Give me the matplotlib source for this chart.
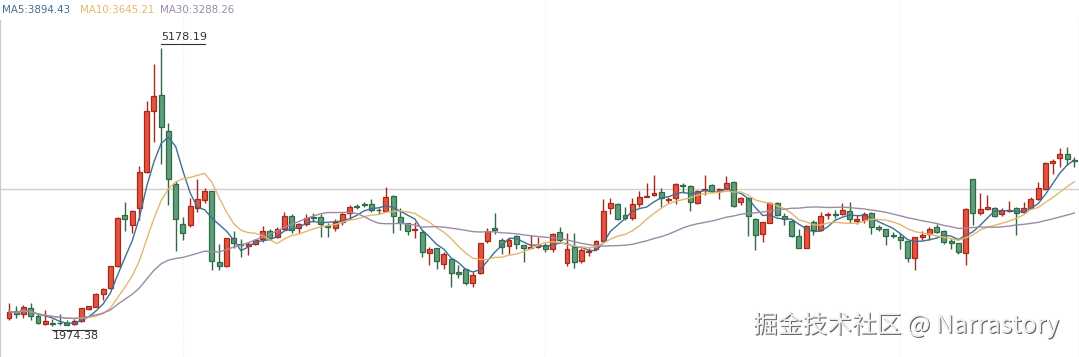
import matplotlib
matplotlib.use('Agg')
import matplotlib.pyplot as plt
import matplotlib.patheffects as pe
from matplotlib.transforms import offset_copy
import numpy as np
import pandas as pd

# 주봉 OHLC
opens = [2070, 2148, 2107, 2180, 2087, 1995, 2010, 2012, 2001, 1990,
         2024, 2165, 2195, 2338, 2407, 2667, 3251, 3133, 3328, 3750,
         4452, 4633, 4219, 3608, 3144, 3141, 3332, 3429, 3522, 2706,
         2660, 2982, 2922, 2894, 2917, 2969, 3067, 3001, 3086, 3239,
         3098, 3144, 3231, 3224, 3130, 3101, 3176, 3270, 3351, 3380,
         3374, 3312, 3300, 3470, 3224, 3155, 3076, 3058, 2817, 2867,
         2689, 2741, 2591, 2625, 2471, 2579, 2948, 3101, 2961, 2894,
         3009, 2905, 2871, 2882, 2900, 2856, 3055, 2695, 2879, 2724,
         2827, 2857, 2951, 3328, 3375, 3247, 3213, 3374, 3462, 3478,
         3519, 3427, 3443, 3597, 3588, 3386, 3537, 3593, 3527, 3554,
         3635, 3397, 3450, 3207, 3030, 3164, 3386, 3236, 3184, 3005,
         2876, 3167, 3075, 3249, 3260, 3260, 3297, 3185, 3188, 3270,
         3107, 3086, 3023, 3003, 2954, 2752, 2992, 3032, 3109, 3063,
         2949, 2925, 2810, 3662, 3270, 3317, 3326, 3262, 3297, 3326,
         3280, 3328, 3432, 3553, 3853, 3904, 3950, 3881]
highs = [2237, 2197, 2214, 2234, 2110, 2151, 2049, 2110, 2041, 2049,
         2185, 2206, 2347, 2407, 2663, 3231, 3395, 3305, 3819, 4564,
         4990, 5178.19, 4314, 3643, 3231, 3443, 3662, 3565, 3525, 2917,
         2989, 3070, 2969, 2943, 2980, 3124, 3095, 3116, 3282, 3259,
         3155, 3259, 3270, 3259, 3162, 3201, 3282, 3366, 3374, 3404,
         3432, 3326, 3570, 3481, 3328, 3158, 3170, 3078, 2886, 2870,
         2821, 2745, 2675, 2628, 2591, 2928, 3105, 3270, 2982, 2989,
         3020, 2910, 3020, 2994, 2925, 3040, 3109, 3044, 3047, 2867,
         2867, 2963, 3441, 3443, 3386, 3347, 3443, 3527, 3625, 3712,
         3558, 3462, 3616, 3616, 3591, 3539, 3712, 3608, 3558, 3700,
         3637, 3462, 3453, 3213, 3174, 3395, 3404, 3274, 3188, 3086,
         3136, 3193, 3289, 3289, 3314, 3386, 3404, 3251, 3291, 3289,
         3136, 3090, 3058, 3040, 2955, 3001, 3067, 3109, 3147, 3078,
         2982, 2932, 3335, 3665, 3501, 3481, 3347, 3335, 3416, 3347,
         3404, 3455, 3628, 3858, 3893, 4019, 4029, 3923]
lows = [2041, 2059, 2064, 2041, 1990, 1982, 1974.38, 1980, 1978, 1980,
        2018, 2157, 2190, 2272, 2398, 2655, 3072, 3040, 3193, 3738,
        4092, 3838, 3366, 2836, 2963, 3116, 3289, 3386, 2617, 2617,
        2655, 2867, 2771, 2790, 2905, 2943, 2963, 2982, 3078, 3040,
        3040, 3124, 3174, 3001, 3001, 3067, 3136, 3193, 3320, 3347,
        3289, 3262, 3289, 3044, 3078, 3020, 2982, 2771, 2675, 2631,
        2625, 2421, 2522, 2444, 2421, 2577, 2925, 3036, 2802, 2798,
        2859, 2709, 2867, 2867, 2828, 2828, 2943, 2663, 2637, 2695,
        2773, 2848, 2946, 3257, 3193, 3193, 3199, 3347, 3460, 3466,
        3343, 3386, 3378, 3501, 3297, 3372, 3481, 3501, 3435, 3539,
        3347, 3366, 3009, 2848, 2940, 3159, 3239, 3136, 2994, 2867,
        2874, 3020, 3064, 3208, 3213, 3251, 3159, 3153, 3155, 3032,
        3070, 2905, 2982, 2856, 2713, 2617, 2963, 2963, 3047, 2917,
        2859, 2796, 2675, 3136, 3251, 3309, 3224, 3239, 3286, 3020,
        3270, 3317, 3424, 3539, 3723, 3804, 3827, 3807]
closes = [2139, 2116, 2195, 2091, 2010, 2030, 1995, 2001, 1987, 2024,
          2177, 2199, 2338, 2396, 2658, 3213, 3202, 3297, 3743, 4449,
          4622, 4268, 3662, 3201, 3040, 3360, 3432, 3527, 2717, 2669,
          2986, 2925, 2908, 2917, 2963, 3061, 2989, 3086, 3239, 3078,
          3144, 3222, 3213, 3144, 3115, 3176, 3257, 3347, 3340, 3371,
          3305, 3305, 3464, 3243, 3162, 3070, 3086, 2830, 2856, 2721,
          2798, 2579, 2568, 2471, 2556, 2925, 3072, 3075, 2879, 2963,
          2913, 2867, 2886, 2900, 2856, 3029, 2966, 2856, 2709, 2842,
          2840, 2955, 3297, 3386, 3201, 3211, 3375, 3453, 3473, 3502,
          3443, 3439, 3606, 3582, 3397, 3531, 3554, 3531, 3545, 3625,
          3351, 3443, 3239, 3026, 3167, 3386, 3251, 3201, 3009, 2876,
          3130, 3078, 3234, 3260, 3252, 3306, 3201, 3201, 3265, 3107,
          3095, 3005, 3012, 2963, 2761, 2994, 3020, 3090, 3058, 2943,
          2925, 2825, 3320, 3270, 3318, 3340, 3239, 3309, 3309, 3270,
          3328, 3435, 3558, 3846, 3876, 3950, 3893, 3873]

ma_windows = [5, 10, 30]
ma_colors = ['#3f6f92', '#e2b86e', '#9d8aa8']
ma_last = ['3894.43', '3645.21', '3288.26']

up_fill, up_edge = '#e4533e', '#a8281c'
down_fill, down_edge = '#5e9e78', '#2f6a47'

df = pd.DataFrame({'open': opens, 'high': highs, 'low': lows, 'close': closes})
n = len(df)
idx = np.arange(n)

fig = plt.figure(figsize=(10.79, 3.57), dpi=100)
ax = fig.add_axes([0, 0, 1, 1])

# 크로스헤어 / 세로 점선
ax.axhline(3556, color='#cfcfcf', lw=1.0, zorder=1)
for gx in [24, 74, 123]:
    ax.axvline(gx, color='#ececec', lw=0.8, ls=(0, (1, 2)), zorder=0)

up = df['close'] >= df['open']
body_lo = np.minimum(df['open'], df['close'])
body_h = np.maximum(np.abs(df['close'] - df['open']), 8)

for mask, fill, edge in [(up, up_fill, up_edge), (~up, down_fill, down_edge)]:
    ax.vlines(idx[mask], df['low'][mask], df['high'][mask], color=edge, lw=1.0, zorder=2)
    ax.bar(idx[mask], body_h[mask], bottom=body_lo[mask], width=0.68,
           color=fill, edgecolor=edge, linewidth=0.9, zorder=3)
# end for (candles)

for w, c in zip(ma_windows, ma_colors):
    ma = df['close'].rolling(w, min_periods=1).mean()
    ax.plot(idx, ma, color=c, lw=1.0, zorder=4)
# end for (MA)

# 최고 / 최저 표시
hi_i = int(np.argmax(highs))
lo_i = int(np.argmin(lows))
tr_hi = offset_copy(ax.transData, fig=fig, x=0, y=4, units='dots')
tr_lo = offset_copy(ax.transData, fig=fig, x=0, y=-4, units='dots')
ax.plot([hi_i, hi_i + 6], [highs[hi_i]] * 2, color='#333333', lw=0.8, transform=tr_hi, zorder=5)
ax.annotate(f'{highs[hi_i]:.2f}', (hi_i, highs[hi_i]), xytext=(0, 4), textcoords='offset points',
            ha='left', va='bottom', fontsize=8, color='#333333')
ax.plot([lo_i, lo_i + 6], [lows[lo_i]] * 2, color='#333333', lw=0.8, transform=tr_lo, zorder=5)
ax.annotate(f'{lows[lo_i]:.2f}', (lo_i, lows[lo_i]), xytext=(0, -4), textcoords='offset points',
            ha='left', va='top', fontsize=8, color='#333333')

# 범례
for xpos, w, c, v in zip([2, 80, 160], ma_windows, ma_colors, ma_last):
    fig.text(xpos / 1079, 1 - 10 / 357, f'MA{w}:{v}', color=c, fontsize=7.4, va='center', ha='left')
# end for (legend)

# 워터마크
fig.text(753 / 1079, 1 - 325 / 357, '掘金技术社区 @ Narrastory', fontsize=17.8, color='#f2f2f2',
         va='center', ha='left', family=['Noto Sans CJK SC', 'DejaVu Sans'],
         path_effects=[pe.withSimplePatchShadow(offset=(0.8, -0.8), shadow_rgbFace='#555555', alpha=0.9)])

ax.set_xlim(-1.24, 147.65)
ax.set_ylim(1615, 5728)
ax.set_xticks([])
ax.set_yticks([])
for s in ['top', 'bottom']:
    ax.spines[s].set_visible(False)
for s in ['left', 'right']:
    ax.spines[s].set_color('#c8c8c8')
    ax.spines[s].set_bounds(1615, 5728 - 20 * 11.52)

fig.savefig('out.png', dpi=100)
